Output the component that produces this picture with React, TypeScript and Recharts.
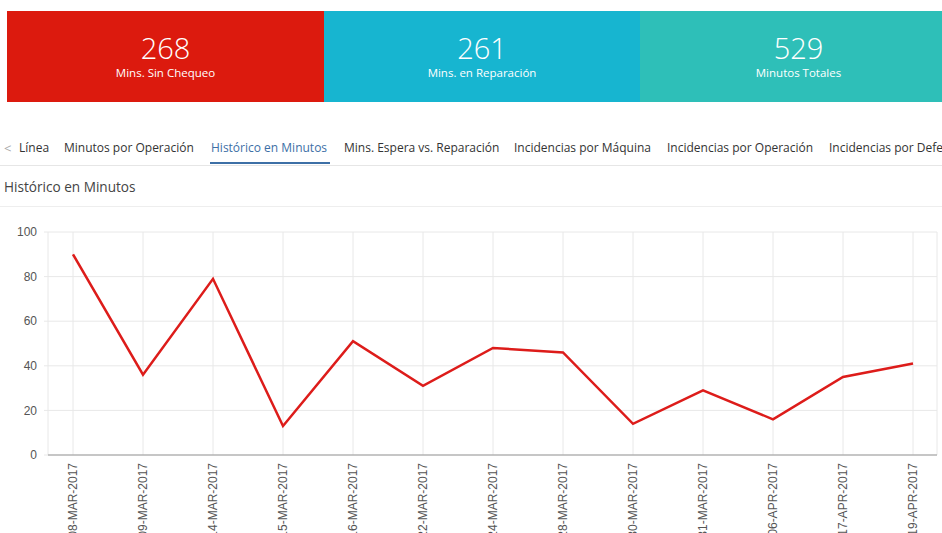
import React from "react";
import { LineChart, Line, XAxis, YAxis, CartesianGrid } from "recharts";

const fechas = [
  "08-MAR-2017", "09-MAR-2017", "14-MAR-2017", "15-MAR-2017", "16-MAR-2017",
  "22-MAR-2017", "24-MAR-2017", "28-MAR-2017", "30-MAR-2017", "31-MAR-2017",
  "06-APR-2017", "17-APR-2017", "19-APR-2017",
];
const minutos = [90, 36, 79, 13, 51, 31, 48, 46, 14, 29, 16, 35, 41];
const yTicks = [0, 20, 40, 60, 80, 100];

const resumen = [
  { valor: "268", texto: "Mins. Sin Chequeo", color: "#dc1a0e" },
  { valor: "261", texto: "Mins. en Reparación", color: "#17b5d0" },
  { valor: "529", texto: "Minutos Totales", color: "#2ebfb8" },
];

const pestanas = [
  { texto: "Línea", x: 19 },
  { texto: "Minutos por Operación", x: 64 },
  { texto: "Histórico en Minutos", x: 211, activa: true },
  { texto: "Mins. Espera vs. Reparación", x: 344 },
  { texto: "Incidencias por Máquina", x: 514 },
  { texto: "Incidencias por Operación", x: 667 },
  { texto: "Incidencias por Defecto", x: 829 },
];

const data = fechas.map((f, i) => ({ fecha: f, minutos: minutos[i] }));

const uiFont = "'Open Sans', 'Noto Sans', sans-serif";
const chartFont = "'Liberation Sans', Arial, sans-serif";

// rotated date labels under the axis, reading bottom to top
const FechaTick = ({ x, y, payload }: any) => (
  <g transform={`translate(${x},${y})`}>
    <text
      transform="rotate(-90)"
      textAnchor="end"
      x={0}
      dy="0.35em"
      fill="#555"
      fontSize={12}
      fontFamily={chartFont}
    >
      {payload.value}
    </text>
  </g>
);

export default function App() {
  return (
    <div
      style={{
        position: "absolute",
        left: 0,
        top: 0,
        width: 942,
        height: 533,
        overflow: "hidden",
        background: "#fff",
        fontFamily: uiFont,
      }}
    >
      {/* tarjetas de resumen */}
      {resumen.map((r, i) => (
        <div
          key={r.texto}
          style={{
            position: "absolute",
            left: 7 + i * 316.5,
            top: 11,
            width: 317,
            height: 91,
            background: r.color,
            color: "#fff",
            textAlign: "center",
          }}
        >
          <div style={{ position: "absolute", top: 20, width: "100%", fontSize: 29, fontWeight: 300, lineHeight: "34px" }}>
            {r.valor}
          </div>
          <div style={{ position: "absolute", top: 54, width: "100%", fontSize: 11.5, lineHeight: "16px" }}>
            {r.texto}
          </div>
        </div>
      ))}

      {/* pestañas */}
      <div style={{ position: "absolute", left: 4, top: 139, fontSize: 13, color: "#aaa", lineHeight: "18px" }}>&lt;</div>
      {pestanas.map((p) => (
        <div
          key={p.texto}
          style={{
            position: "absolute",
            left: p.x,
            top: 139,
            fontSize: 12,
            lineHeight: "18px",
            whiteSpace: "nowrap",
            color: p.activa ? "#3d6fa6" : "#333",
          }}
        >
          {p.texto}
        </div>
      ))}
      <div style={{ position: "absolute", left: 210, top: 162, width: 120, height: 2, background: "#3d6fa6" }} />
      <div style={{ position: "absolute", left: 0, top: 165, width: 942, height: 1, background: "#e6e6e6" }} />

      <div style={{ position: "absolute", left: 4, top: 178, fontSize: 13.6, lineHeight: "18px", color: "#444", whiteSpace: "nowrap" }}>
        Histórico en Minutos
      </div>
      <div style={{ position: "absolute", left: 0, top: 206, width: 942, height: 1, background: "#eeeeee" }} />

      <div style={{ position: "absolute", left: 0, top: 210 }}>
        <LineChart width={942} height={335} data={data} margin={{ top: 22, right: 5, bottom: 0, left: 0 }}>
          <CartesianGrid stroke="#e8e8e8" />
          <XAxis
            dataKey="fecha"
            interval={0}
            height={90}
            padding={{ left: 25, right: 24 }}
            tickLine={false}
            axisLine={{ stroke: "#999" }}
            tick={<FechaTick />}
          />
          <YAxis
            width={48}
            domain={[0, 100]}
            ticks={yTicks}
            axisLine={false}
            tickLine={{ stroke: "#e8e8e8" }}
            tickSize={4}
            tickMargin={7}
            tick={{ fill: "#555", fontSize: 12, fontFamily: chartFont }}
          />
          <Line
            type="linear"
            dataKey="minutos"
            stroke="#dd1c1a"
            strokeWidth={2.5}
            dot={false}
            isAnimationActive={false}
          />
        </LineChart>
      </div>
    </div>
  );
}
